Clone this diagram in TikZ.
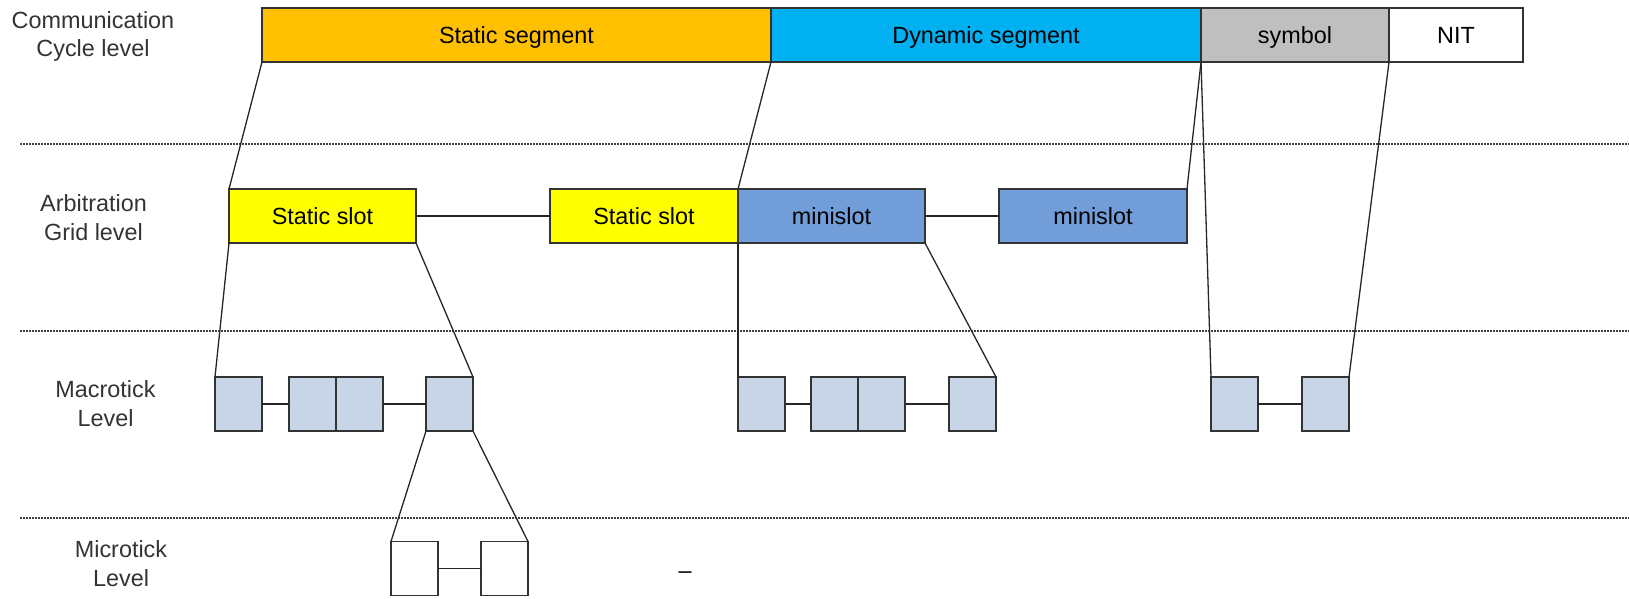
\documentclass[tikz,border=0pt]{standalone}
\usepackage{fontspec}
\setmainfont{Liberation Sans}
\usetikzlibrary{positioning}

\definecolor{segorange}{HTML}{FFC000}
\definecolor{segcyan}{HTML}{00B0F0}
\definecolor{symgray}{HTML}{BFBFBF}
\definecolor{slotyellow}{HTML}{FFFF00}
\definecolor{miniblue}{HTML}{719ED9}
\definecolor{tickblue}{HTML}{C8D5E6}

\tikzset{
  box/.style={draw=black!80, line width=1.3pt, rectangle, inner sep=0pt, outer sep=0pt,
    anchor=north west, text height=16.8pt, text depth=0pt, font=\fontsize{23.4}{28.8}\selectfont},
  tick/.style={box, fill=tickblue, minimum width=47pt, minimum height=54pt},
  microbox/.style={box, fill=white, minimum width=47pt, minimum height=54pt},
  levellabel/.style={align=center, text=black!80, font=\fontsize{23.4}{28.8}\selectfont},
  link/.style={line width=1.3pt, black!85},
  separator/.style={line width=1.6pt, black!75, dash pattern=on 2pt off 1pt}
}

\begin{document}
\begin{tikzpicture}[x=1pt, y=-1pt]
  \useasboundingbox (0,0) rectangle (1629,599);

  % level separators
  \draw[separator] (20,144) -- (1629,144);
  \draw[separator] (20,331) -- (1629,331);
  \draw[separator] (20,518) -- (1629,518);

  % level names
  \node[levellabel] (lcycle) at (93,36.4) {Communication\\Cycle level};
  \node[levellabel] (lgrid) at (93.5,218) {Arbitration\\Grid level};
  \node[levellabel] (lmacro) at (105.5,404) {Macrotick\\Level};
  \node[levellabel] (lmicro) at (121,564) {Microtick\\Level};

  % communication cycle
  \node[box, fill=segorange, minimum width=509pt, minimum height=54pt] (static) at (262,8) {Static segment};
  \node[box, fill=segcyan, minimum width=430pt, minimum height=54pt] (dynamic) at (771,8) {Dynamic segment};
  \node[box, fill=symgray, minimum width=188pt, minimum height=54pt] (symbol) at (1201,8) {symbol};
  \node[box, fill=white, minimum width=134pt, minimum height=54pt] (nit) at (1389,8) {NIT};

  % arbitration grid
  \node[box, fill=slotyellow, minimum width=187pt, minimum height=54pt] (slotA) at (229,189) {Static slot};
  \node[box, fill=slotyellow, minimum width=188pt, minimum height=54pt] (slotB) at (550,189) {Static slot};
  \node[box, fill=miniblue, minimum width=187pt, minimum height=54pt] (miniA) at (738,189) {minislot};
  \node[box, fill=miniblue, minimum width=188pt, minimum height=54pt] (miniB) at (999,189) {minislot};
  \draw[link] (slotA.east) -- (slotB.west);
  \draw[link] (miniA.east) -- (miniB.west);

  % macroticks
  \node[tick] (ma1) at (215,377) {};
  \node[tick] (ma2) at (289,377) {};
  \node[tick] (ma3) at (336,377) {};
  \node[tick] (ma4) at (426,377) {};
  \draw[link] (ma1.east) -- (ma2.west);
  \draw[link] (ma3.east) -- (ma4.west);

  \node[tick] (mb1) at (738,377) {};
  \node[tick] (mb2) at (811,377) {};
  \node[tick] (mb3) at (858,377) {};
  \node[tick] (mb4) at (949,377) {};
  \draw[link] (mb1.east) -- (mb2.west);
  \draw[link] (mb3.east) -- (mb4.west);

  \node[tick] (mc1) at (1211,377) {};
  \node[tick] (mc2) at (1302,377) {};
  \draw[link] (mc1.east) -- (mc2.west);

  % microticks
  \node[microbox] (mu1) at (391,541.5) {};
  \node[microbox] (mu2) at (481,541.5) {};
  \draw[link] (mu1.east) -- (mu2.west);

  \node[anchor=base, font=\fontsize{23.4}{28.8}\selectfont] (dash) at (685,578) {–};

  % zoom lines
  \draw[link] (static.south west) -- (slotA.north west);
  \draw[link] (static.south east) -- (slotB.north east);
  \draw[link] (dynamic.south east) -- (miniB.north east);
  \draw[link] (symbol.south west) -- (mc1.north west);
  \draw[link] (symbol.south east) -- (mc2.north east);
  \draw[link] (slotA.south west) -- (ma1.north west);
  \draw[link] (slotA.south east) -- (ma4.north east);
  \draw[link] (miniA.south west) -- (mb1.north west);
  \draw[link] (miniA.south east) -- (mb4.north east);
  \draw[link] (ma4.south west) -- (mu1.north west);
  \draw[link] (ma4.south east) -- (mu2.north east);
\end{tikzpicture}
\end{document}
